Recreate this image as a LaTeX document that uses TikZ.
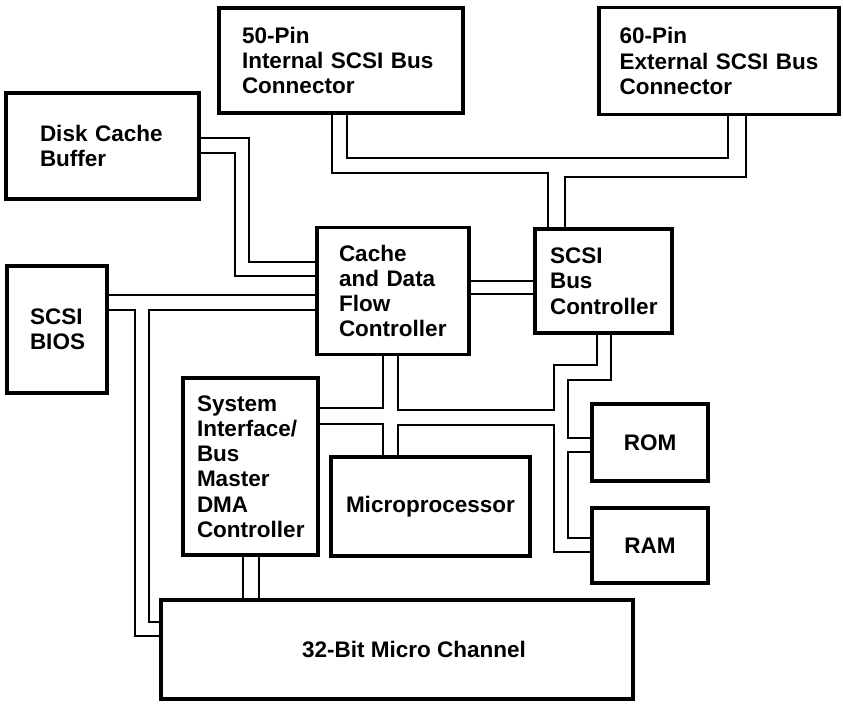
\documentclass[tikz,border=0pt]{standalone}
\usepackage{fontspec}
\setmainfont{Liberation Sans}
\usepackage{tikz}
\tikzstyle{block} = [rectangle, draw=black, line width=3.2pt, inner sep=0pt, align=left, font=\bfseries\fontsize{22.5}{25.3}\selectfont]
\tikzstyle{smallblock} = [block, align=center]
\tikzstyle{bus} = [draw=black, line width=2.6pt]

\begin{document}
\begin{tikzpicture}[x=1pt, y=-1pt]
\useasboundingbox (0,0) rectangle (843,704);

% Connectors and memory
\node[block, minimum width=244, minimum height=105, text width=198] (ints) at (341,60.5) {50-Pin\\Internal SCSI Bus\\Connector};
\node[block, minimum width=240, minimum height=107, text width=199] (exts) at (719,61) {60-Pin\\External SCSI Bus\\Connector};
\node[block, minimum width=193, minimum height=106, text width=125] (dcb) at (102.5,146) {Disk Cache\\Buffer};
\node[block, minimum width=100, minimum height=127, text width=54] (bios) at (57,329.5) {SCSI\\BIOS};
% Controllers
\node[block, minimum width=152, minimum height=127, text width=108] (cdf) at (393,291) {Cache\\and Data\\Flow\\Controller};
\node[block, minimum width=137, minimum height=104, text width=107] (sbc) at (603.5,281) {SCSI\\Bus\\Controller};
\node[block, minimum width=135, minimum height=177, text width=107] (sif) at (250.5,466.5) {System\\Interface/\\Bus\\Master\\DMA\\Controller};
\node[block, minimum width=199, minimum height=99, text width=169] (mpu) at (430.5,506.5) {Microprocessor};
\node[smallblock, minimum width=116, minimum height=77] (rom) at (650,442.5) {ROM};
\node[smallblock, minimum width=116, minimum height=75] (ram) at (650,545.5) {RAM};
% Micro Channel
\node[smallblock, minimum width=472, minimum height=99] (mca) at (397,649.5) {\hspace*{34pt}32-Bit Micro Channel};

% BUSES
% disk cache buffer
\draw[bus] (dcb.east |- 0,138) -| (249,262) -- (cdf.west |- 0,262);
\draw[bus] (dcb.east |- 0,153) -| (235,276) -- (cdf.west |- 0,276);
% SCSI connectors
\draw[bus] (ints.south -| 332,0) |- (548,173) -- (sbc.north -| 548,0);
\draw[bus] (ints.south -| 347,0) |- (728,158) -- (exts.south -| 728,0);
\draw[bus] (exts.south -| 746,0) |- (565,177) -- (sbc.north -| 565,0);
% data flow to SCSI
\draw[bus] (cdf.east |- 0,281) -- (sbc.west |- 0,281);
\draw[bus] (cdf.east |- 0,294) -- (sbc.west |- 0,294);
% BIOS and channel
\draw[bus] (bios.east |- 0,295) -- (cdf.west |- 0,295);
\draw[bus] (bios.east |- 0,310) -| (135,636) -- (mca.west |- 0,636);
\draw[bus] (cdf.west |- 0,310) -| (149,622) -- (mca.west |- 0,622);
% local bus
\draw[bus] (cdf.south -| 383,0) |- (sif.east |- 0,408);
\draw[bus] (sif.east |- 0,424) -| (mpu.north -| 383,0);
\draw[bus] (cdf.south -| 398,0) |- (554,410) |- (597,365) -- (sbc.south -| 597,0);
\draw[bus] (mpu.north -| 398,0) |- (554,425) |- (ram.west |- 0,552);
\draw[bus] (sbc.south -| 611,0) |- (568,380) |- (rom.west |- 0,438);
\draw[bus] (rom.west |- 0,452) -| (568,538) -- (ram.west |- 0,538);
% system interface to channel
\draw[bus] (sif.south -| 243,0) -- (mca.north -| 243,0);
\draw[bus] (sif.south -| 259,0) -- (mca.north -| 259,0);
\end{tikzpicture}
\end{document}
